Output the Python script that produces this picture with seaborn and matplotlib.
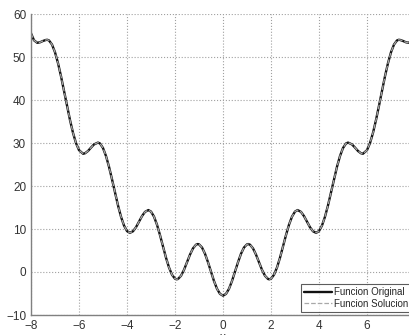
import matplotlib
matplotlib.use("Agg")
import matplotlib.pyplot as plt
import seaborn as sns

# curve (symmetric about x = 0)
x_vals = [-8.0, -7.875, -7.74, -7.625, -7.5, -7.375, -7.32, -7.25, -7.125, -7.0,
          -6.875, -6.75, -6.625, -6.5, -6.375, -6.25, -6.125, -6.0, -5.83, -5.75,
          -5.625, -5.5, -5.375, -5.21, -5.125, -5.0, -4.875, -4.75, -4.625, -4.5,
          -4.375, -4.25, -4.125, -4.0, -3.88, -3.75, -3.625, -3.5, -3.375, -3.25,
          -3.11, -3.0, -2.875, -2.75, -2.625, -2.5, -2.375, -2.25, -2.125, -2.0,
          -1.93, -1.875, -1.75, -1.625, -1.5, -1.375, -1.25, -1.125, -1.05, -1.0,
          -0.875, -0.75, -0.625, -0.5, -0.375, -0.25, -0.125,
          0.0, 0.125, 0.25, 0.375, 0.5, 0.625, 0.75, 0.875, 1.0, 1.05,
          1.125, 1.25, 1.375, 1.5, 1.625, 1.75, 1.875, 1.93, 2.0, 2.125,
          2.25, 2.375, 2.5, 2.625, 2.75, 2.875, 3.0, 3.11, 3.25, 3.375,
          3.5, 3.625, 3.75, 3.88, 4.0, 4.125, 4.25, 4.375, 4.5, 4.625,
          4.75, 4.875, 5.0, 5.125, 5.21, 5.375, 5.5, 5.625, 5.75, 5.83,
          6.0, 6.125, 6.25, 6.375, 6.5, 6.625, 6.75, 6.875, 7.0, 7.125,
          7.25, 7.32, 7.375, 7.5, 7.625, 7.74, 7.875, 8.0]
y_original = [55.5, 53.89, 53.3, 53.42, 53.73, 53.97, 54.0, 53.85, 52.9, 51.1,
              48.58, 45.53, 42.15, 38.68, 35.34, 32.36, 29.98, 28.34, 27.5, 27.61,
              28.14, 28.93, 29.67, 30.1, 29.89, 28.83, 26.97, 24.48, 21.56, 18.49,
              15.49, 12.86, 10.81, 9.52, 9.1, 9.47, 10.41, 11.7, 13.0, 13.98,
              14.4, 14.05, 12.88, 10.99, 8.58, 5.92, 3.32, 1.05, -0.64, -1.56,
              -1.7, -1.62, -0.88, 0.5, 2.26, 4.04, 5.5, 6.35, 6.5, 6.43,
              5.7, 4.24, 2.27, 0.05, -2.1, -3.9, -5.09,
              -5.5, -5.09, -3.9, -2.1, 0.05, 2.27, 4.24, 5.7, 6.43, 6.5,
              6.35, 5.5, 4.04, 2.26, 0.5, -0.88, -1.62, -1.7, -1.56, -0.64,
              1.05, 3.32, 5.92, 8.58, 10.99, 12.88, 14.05, 14.4, 13.98, 13.0,
              11.7, 10.41, 9.47, 9.1, 9.52, 10.81, 12.86, 15.49, 18.49, 21.56,
              24.48, 26.97, 28.83, 29.89, 30.1, 29.67, 28.93, 28.14, 27.61, 27.5,
              28.34, 29.98, 32.36, 35.34, 38.68, 42.15, 45.53, 48.58, 51.1, 52.9,
              53.85, 54.0, 53.97, 53.73, 53.42, 53.3, 53.89, 55.5]
# the fitted solution lies on top of the original curve
y_solucion = y_original

x_ticks = [-8, -6, -4, -2, 0, 2, 4, 6]
y_ticks = [-10, 0, 10, 20, 30, 40, 50, 60]

sns.set_style("white")
plt.rcParams['font.family'] = ['Liberation Sans', 'DejaVu Sans']

fig = plt.figure(figsize=(4.09, 3.35), dpi=100)
# axes run a bit past the right edge, as in the cropped original
ax = fig.add_axes([31 / 409, 20 / 335, 384 / 409, 301 / 335])

sns.lineplot(x=x_vals, y=y_original, ax=ax, color='#111111', linewidth=1.7,
             sort=False, label='Funcion Original')
sns.lineplot(x=x_vals, y=y_solucion, ax=ax, color='#a8a8a8', linewidth=0.9,
             linestyle='--', sort=False, label='Funcion Solucion')

ax.set_xlim(-8, 8)
ax.set_ylim(-10, 60)
ax.set_xticks(x_ticks)
ax.set_yticks(y_ticks)
ax.grid(True, linestyle=':', color='#a0a0a0', linewidth=0.8)
ax.tick_params(labelsize=8.5, colors='#333333', direction='in', length=3)

for side in ['top', 'right']:
    ax.spines[side].set_visible(False)
for side in ['left', 'bottom']:
    ax.spines[side].set_color('#808080')
    ax.spines[side].set_linewidth(1.0)

ax.set_xlabel('x', fontsize=8.5, color='#333333')
ax.xaxis.set_label_coords(0.5, -0.055)
ax.set_ylabel('')

leg = ax.legend(loc='lower right', fontsize=7, frameon=True, fancybox=False,
                borderaxespad=0.3, handlelength=2.8, handletextpad=0.3,
                borderpad=0.35, labelspacing=0.15)
leg.get_frame().set_edgecolor('#333333')
leg.get_frame().set_linewidth(0.8)

fig.savefig('out.png', dpi=100)
